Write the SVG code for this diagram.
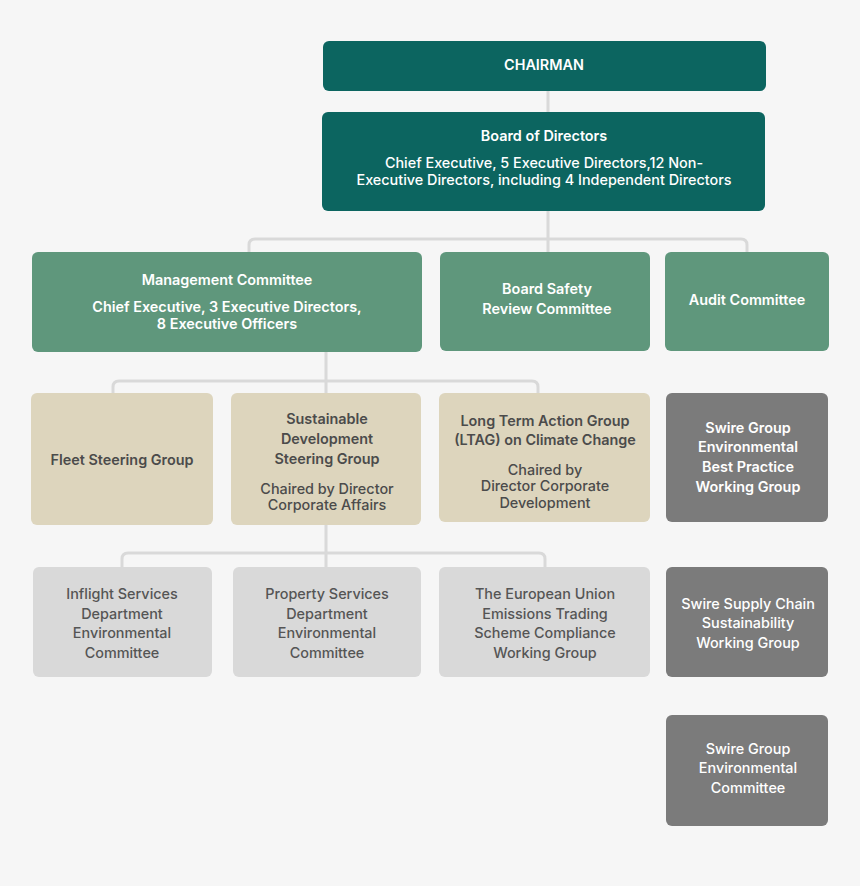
<svg xmlns="http://www.w3.org/2000/svg" width="860" height="886" viewBox="0 0 860 886">
<style>
text{font-family:Inter,"Noto Sans","Liberation Sans",sans-serif;font-size:14.4px;text-anchor:middle}
.t{fill:#ffffff}
.d{fill:#4b4b4b}
.g{fill:#555555}
.b{font-weight:600}
.m{font-weight:500}
.dark{fill:#0c6560}
.mid{fill:#5f977c}
.beige{fill:#ddd5bd}
.lgrey{fill:#d9d9d9}
.dgrey{fill:#7b7b7b}
.conn{fill:none;stroke:#d9d9d9;stroke-width:3}
</style>
<rect width="860" height="886" fill="#f6f6f6"/>
<g id="connectors">
<path class="conn" d="M548 91V112"/>
<path class="conn" d="M548 211V252"/>
<path class="conn" d="M249 252V245Q249 239 255 239H741Q747 239 747 245V252"/>
<path class="conn" d="M326 352V393"/>
<path class="conn" d="M113 393V387Q113 381 119 381H532Q538 381 538 387V393"/>
<path class="conn" d="M326 525V567"/>
<path class="conn" d="M122 567V559Q122 553 128 553H539Q545 553 545 559V567"/>
</g>
<g id="chairman"><rect class="dark" x="323" y="41" width="443" height="50" rx="6"/><text class="t b" x="544" y="70">CHAIRMAN</text></g>
<g id="board"><rect class="dark" x="322" y="112" width="443" height="99" rx="6"/><text class="t b" x="544" y="141">Board of Directors</text><text class="t m" x="544" y="168">Chief Executive, 5 Executive Directors,12 Non-</text><text class="t m" x="544" y="185">Executive Directors, including 4 Independent Directors</text></g>
<g id="management"><rect class="mid" x="32" y="252" width="390" height="100" rx="6"/><text class="t b" x="227" y="285">Management Committee</text><text class="t b" x="227" y="312">Chief Executive, 3 Executive Directors,</text><text class="t b" x="227" y="329">8 Executive Officers</text></g>
<g id="safety"><rect class="mid" x="440" y="252" width="210" height="99" rx="6"/><text class="t b" x="547" y="294">Board Safety</text><text class="t b" x="547" y="314">Review Committee</text></g>
<g id="audit"><rect class="mid" x="665" y="252" width="164" height="99" rx="6"/><text class="t b" x="747" y="305">Audit Committee</text></g>
<g id="fleet"><rect class="beige" x="31" y="393" width="182" height="132" rx="6"/><text class="d b" x="122" y="465">Fleet Steering Group</text></g>
<g id="sustainable"><rect class="beige" x="231" y="393" width="190" height="132" rx="6"/><text class="d b" x="327" y="424">Sustainable</text><text class="d b" x="327" y="444">Development</text><text class="d b" x="327" y="464">Steering Group</text><text class="d m" x="327" y="494">Chaired by Director</text><text class="d m" x="327" y="510">Corporate Affairs</text></g>
<g id="ltag"><rect class="beige" x="439" y="393" width="211" height="129" rx="6"/><text class="d b" x="545" y="426">Long Term Action Group</text><text class="d b" x="545" y="445">(LTAG) on Climate Change</text><text class="d m" x="545" y="475">Chaired by</text><text class="d m" x="545" y="491">Director Corporate</text><text class="d m" x="545" y="508">Development</text></g>
<g id="swire-bp"><rect class="dgrey" x="666" y="393" width="162" height="129" rx="6"/><text class="t b" x="748" y="433">Swire Group</text><text class="t b" x="748" y="452">Environmental</text><text class="t b" x="748" y="472">Best Practice</text><text class="t b" x="748" y="492">Working Group</text></g>
<g id="inflight"><rect class="lgrey" x="33" y="567" width="179" height="110" rx="6"/><text class="g m" x="122" y="599">Inflight Services</text><text class="g m" x="122" y="619">Department</text><text class="g m" x="122" y="638">Environmental</text><text class="g m" x="122" y="658">Committee</text></g>
<g id="property"><rect class="lgrey" x="233" y="567" width="188" height="110" rx="6"/><text class="g m" x="327" y="599">Property Services</text><text class="g m" x="327" y="619">Department</text><text class="g m" x="327" y="638">Environmental</text><text class="g m" x="327" y="658">Committee</text></g>
<g id="eu"><rect class="lgrey" x="439" y="567" width="211" height="110" rx="6"/><text class="g m" x="545" y="599">The European Union</text><text class="g m" x="545" y="619">Emissions Trading</text><text class="g m" x="545" y="638">Scheme Compliance</text><text class="g m" x="545" y="658">Working Group</text></g>
<g id="swire-sc"><rect class="dgrey" x="666" y="567" width="162" height="110" rx="6"/><text class="t m" x="748" y="609">Swire Supply Chain</text><text class="t m" x="748" y="628">Sustainability</text><text class="t m" x="748" y="648">Working Group</text></g>
<g id="swire-ec"><rect class="dgrey" x="666" y="715" width="162" height="111" rx="6"/><text class="t m" x="748" y="754">Swire Group</text><text class="t m" x="748" y="773">Environmental</text><text class="t m" x="748" y="793">Committee</text></g>
</svg>
